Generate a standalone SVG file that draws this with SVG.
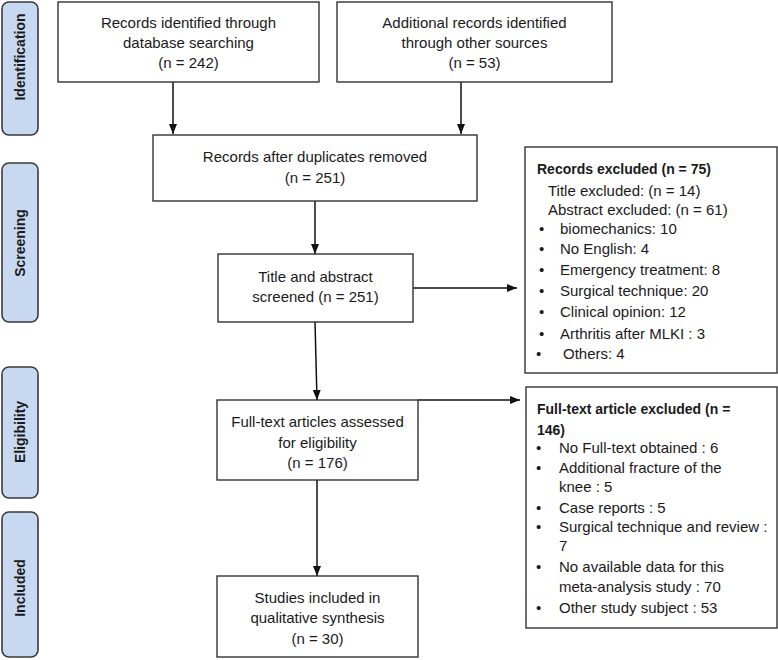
<svg xmlns="http://www.w3.org/2000/svg" width="778" height="660" viewBox="0 0 778 660">
<style>
.box{fill:#fff;stroke:#333;stroke-width:1.4}
.lab{fill:#c6d9f0;stroke:#3a3a3a;stroke-width:1.6}
.t{font-family:"Liberation Sans",Arial,sans-serif;font-size:15px;fill:#1a1a1a}
.c{text-anchor:middle}
.b{font-weight:bold;font-size:14px}
.lt{font-family:"Liberation Sans",Arial,sans-serif;font-size:14px;font-weight:bold;fill:#1a1a1a;text-anchor:middle}
.ln{stroke:#111;stroke-width:1.5;fill:none;marker-end:url(#ah)}
</style>
<defs>
<marker id="ah" markerUnits="userSpaceOnUse" markerWidth="10" markerHeight="8" refX="10" refY="4" orient="auto">
<path d="M0,0 L10,4 L0,8 z" fill="#111"/>
</marker>
</defs>
<rect width="778" height="660" fill="#fff"/>

<g id="lab-identification"><rect class="lab" x="2" y="2" width="36" height="133" rx="7"/><text class="lt" transform="translate(25,57) rotate(-90)">Identification</text></g>
<g id="lab-screening"><rect class="lab" x="2" y="163" width="36" height="159" rx="7"/><text class="lt" transform="translate(25,243) rotate(-90)">Screening</text></g>
<g id="lab-eligibility"><rect class="lab" x="2" y="367" width="36" height="131" rx="7"/><text class="lt" transform="translate(25,432) rotate(-90)">Eligibility</text></g>
<g id="lab-included"><rect class="lab" x="2" y="512" width="36" height="145" rx="7"/><text class="lt" transform="translate(25,588) rotate(-90)">Included</text></g>

<g id="connectors">
<line class="ln" x1="173" y1="82" x2="173" y2="134"/>
<line class="ln" x1="461" y1="82" x2="461" y2="134"/>
<line class="ln" x1="315" y1="201" x2="315" y2="254"/>
<line class="ln" x1="413" y1="288" x2="517" y2="288"/>
<line class="ln" x1="315" y1="322" x2="317" y2="400"/>
<line class="ln" x1="418" y1="400" x2="520" y2="400"/>
<line class="ln" x1="317" y1="480" x2="317" y2="576"/>
</g>

<g id="n-db"><rect class="box" x="58" y="2" width="261" height="80"/>
<text class="t c" x="188.5" y="28">Records identified through</text>
<text class="t c" x="188.5" y="48">database searching</text>
<text class="t c" x="188.5" y="68">(n = 242)</text></g>

<g id="n-other"><rect class="box" x="337" y="2" width="275" height="80"/>
<text class="t c" x="474.5" y="28">Additional records identified</text>
<text class="t c" x="474.5" y="48">through other sources</text>
<text class="t c" x="474.5" y="68">(n = 53)</text></g>

<g id="n-dup"><rect class="box" x="153" y="135" width="324" height="66"/>
<text class="t c" x="315" y="162">Records after duplicates removed</text>
<text class="t c" x="315" y="183">(n = 251)</text></g>

<g id="n-screen"><rect class="box" x="218" y="254" width="195" height="68"/>
<text class="t c" x="315.5" y="282">Title and abstract</text>
<text class="t c" x="315.5" y="302">screened (n = 251)</text></g>

<g id="n-full"><rect class="box" x="217" y="400" width="201" height="80"/>
<text class="t c" x="317.5" y="427">Full-text articles assessed</text>
<text class="t c" x="317.5" y="448">for eligibility</text>
<text class="t c" x="317.5" y="468">(n = 176)</text></g>

<g id="n-incl"><rect class="box" x="217" y="576" width="201" height="81"/>
<text class="t c" x="317.5" y="603">Studies included in</text>
<text class="t c" x="317.5" y="623">qualitative synthesis</text>
<text class="t c" x="317.5" y="644">(n = 30)</text></g>

<g id="n-excl1"><rect class="box" x="525" y="147" width="252" height="226"/>
<text class="t b" x="537" y="174">Records excluded (n = 75)</text>
<text class="t" x="548" y="196">Title excluded: (n = 14)</text>
<text class="t" x="548" y="215">Abstract excluded: (n = 61)</text>
<text class="t" x="539" y="234">•</text><text class="t" x="560" y="234">biomechanics: 10</text>
<text class="t" x="539" y="254">•</text><text class="t" x="560" y="254">No English: 4</text>
<text class="t" x="539" y="275">•</text><text class="t" x="560" y="275">Emergency treatment: 8</text>
<text class="t" x="539" y="296">•</text><text class="t" x="560" y="296">Surgical technique: 20</text>
<text class="t" x="539" y="317">•</text><text class="t" x="560" y="317">Clinical opinion: 12</text>
<text class="t" x="539" y="339">•</text><text class="t" x="560" y="339">Arthritis after MLKI : 3</text>
<text class="t" x="536" y="359">•</text><text class="t" x="563" y="359">Others: 4</text></g>

<g id="n-excl2"><rect class="box" x="526" y="387" width="251" height="241"/>
<text class="t b" x="537" y="414">Full-text article excluded (n =</text>
<text class="t b" x="537" y="435">146)</text>
<text class="t" x="536" y="453">•</text><text class="t" x="559" y="453">No Full-text obtained : 6</text>
<text class="t" x="536" y="473">•</text><text class="t" x="559" y="473">Additional fracture of the</text>
<text class="t" x="559" y="492">knee : 5</text>
<text class="t" x="536" y="513">•</text><text class="t" x="559" y="513">Case reports : 5</text>
<text class="t" x="536" y="532">•</text><text class="t" x="559" y="532">Surgical technique and review :</text>
<text class="t" x="559" y="551">7</text>
<text class="t" x="536" y="572">•</text><text class="t" x="559" y="572">No available data for this</text>
<text class="t" x="559" y="592">meta-analysis study : 70</text>
<text class="t" x="536" y="613">•</text><text class="t" x="559" y="613">Other study subject : 53</text></g>
</svg>
